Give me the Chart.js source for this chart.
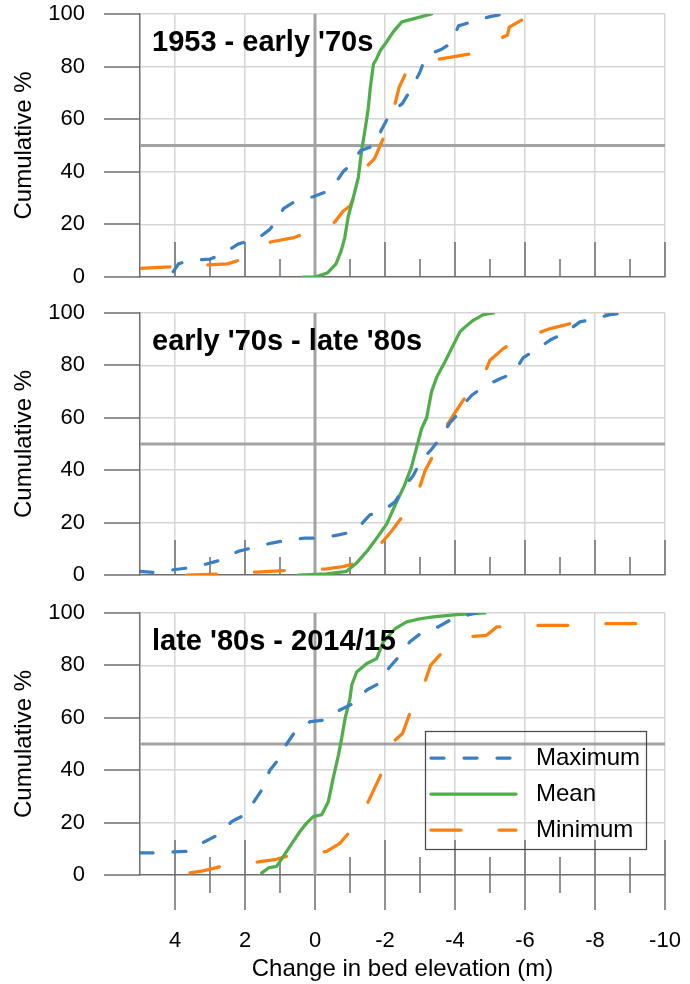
<!DOCTYPE html>
<html>
<head>
<meta charset="utf-8">
<script src="https://cdn.jsdelivr.net/npm/chart.js@4.4.0/dist/chart.umd.min.js"></script>
<style>
  body { margin: 0; background: #fff; }
  #wrap { position: relative; width: 690px; height: 984px; }
  canvas { position: absolute; left: 0; }
</style>
</head>
<body>
<div id="wrap">
  <canvas id="p1" width="690" height="300" style="top:0"></canvas>
  <canvas id="p2" width="690" height="300" style="top:300px"></canvas>
  <canvas id="p3" width="690" height="384" style="top:600px"></canvas>
</div>
<script>
// values: [change in bed elevation (m), cumulative %]
const max53 = [[4.05,2],[3.9,5],[3.6,6.3],[3.0,6.8],[2.6,9],[2.2,12.5],[1.6,15],[1.3,18],[1.15,20.5],[0.9,26],[0.6,28.5],[0.3,30],[0.05,30.5],[-0.3,32.3],[-0.6,36],[-0.8,40],[-1.0,42.5],[-1.3,48],[-1.7,50],[-1.9,56],[-2.1,61],[-2.3,64],[-2.5,66],[-2.7,70.5],[-2.85,74],[-3.0,78],[-3.1,81.5],[-3.3,85],[-3.6,86.5],[-3.9,89],[-4.1,95.5],[-4.6,97.5],[-5.0,99],[-5.4,100]]
const mean53 = [[0.35,0],[0.0,0],[-0.35,1.5],[-0.6,5],[-0.75,10],[-0.85,15],[-0.95,23],[-1.1,30.5],[-1.24,38],[-1.33,48],[-1.43,56],[-1.52,64],[-1.58,72],[-1.67,81],[-1.76,83],[-1.86,86],[-2.05,89.5],[-2.24,93.3],[-2.48,97],[-3.33,100]]
const min53 = [[5,3.3],[4.1,3.9],[3.4,4.3],[3.05,4.6],[2.5,5],[2.14,6.5],[1.8,10],[1.24,13.4],[0.6,15],[0.33,16.3],[-0.1,17],[-0.57,21],[-0.8,25],[-1.0,27],[-1.1,30],[-1.3,35],[-1.52,42.6],[-1.7,45],[-1.95,52.7],[-2.1,58],[-2.29,66],[-2.4,72],[-2.57,76.8],[-3.0,79],[-3.52,82.8],[-4.43,84.8],[-5.0,88],[-5.28,90.7],[-5.5,92],[-5.55,95],[-5.9,97.7]]

const max70 = [[5,1.4],[4.6,1],[4.05,2],[3.62,2.7],[3.1,4.2],[2.67,5.8],[2.2,9],[1.76,10.5],[1.24,12.2],[0.9,13],[0.29,14.1],[-0.14,14.1],[-0.71,15.4],[-1.1,16.6],[-1.3,19],[-1.57,23],[-1.86,24],[-2.1,26],[-2.29,28],[-2.52,33],[-2.81,38],[-3.0,43],[-3.33,48],[-3.62,53],[-3.85,58],[-4.05,61],[-4.14,63.6],[-4.48,68.6],[-4.81,71.8],[-5.3,75],[-5.67,77],[-5.95,83],[-6.3,85.8],[-6.76,90],[-7.1,92],[-7.57,96.6],[-7.95,97.6],[-8.43,99.4],[-8.9,100]]
const mean70 = [[0.48,0],[-0.33,0.4],[-0.9,1.4],[-1.19,4.6],[-1.48,9],[-1.76,14],[-2.05,19.5],[-2.3,27],[-2.55,34],[-2.75,41],[-2.95,51],[-3.05,56],[-3.19,60],[-3.33,70],[-3.48,75.6],[-3.71,81.3],[-3.9,86.4],[-4.14,92.8],[-4.29,94.7],[-4.52,97.2],[-4.81,99.4],[-5.1,100]]
const min70 = [[3.67,0],[2.76,0.4],[1.67,1.1],[0.76,1.8],[-0.33,2.3],[-0.8,3.2],[-1.19,4.6],[-1.6,8],[-1.95,13],[-2.2,17],[-2.48,22],[-2.75,28],[-3.0,34],[-3.15,40],[-3.33,44.5],[-3.55,52],[-3.76,57],[-4.0,62],[-4.24,66.8],[-4.55,72],[-4.86,77.5],[-5.0,82],[-5.38,86.4],[-5.8,90],[-6.3,92],[-6.7,94],[-7.1,95.3],[-7.6,97],[-8.1,99.5],[-8.43,100]]

const max80 = [[5,8.4],[4.62,8.4],[4.1,8.8],[3.62,9],[3.14,12.8],[2.76,15.4],[2.38,20.4],[2.0,23],[1.71,28.7],[1.52,32.5],[1.29,40],[1.05,44],[0.81,50],[0.57,54.7],[0.14,58.5],[-0.24,59.1],[-0.71,63],[-1.1,65.5],[-1.48,70.6],[-1.81,73],[-2.1,78.8],[-2.43,83.9],[-2.71,89],[-3.0,92],[-3.52,94.7],[-3.9,97.6],[-4.3,99],[-4.6,100]]
const mean80 = [[1.52,0.8],[1.33,2.7],[1.1,3.3],[1.0,5.2],[0.81,9],[0.62,12.8],[0.43,16.6],[0.24,19.8],[0.05,22.3],[-0.19,23],[-0.38,28],[-0.52,37],[-0.67,45.8],[-0.76,52],[-0.86,59.8],[-1.0,67.4],[-1.05,72.5],[-1.19,77.5],[-1.48,80.7],[-1.76,82.6],[-1.95,89],[-2.29,94],[-2.62,96.6],[-3.0,97.8],[-3.38,98.5],[-4.05,99.4],[-4.86,100]]
const min80 = [[3.57,0.8],[3.2,1.6],[2.67,3.3],[2.2,4.2],[1.62,5],[1.1,6],[0.71,7.5],[0.2,8],[-0.33,9],[-0.7,12],[-1.0,16.6],[-1.3,22],[-1.52,28],[-1.9,38.8],[-2.1,45],[-2.29,51.5],[-2.5,54],[-2.71,61.7],[-2.9,68],[-3.14,73.7],[-3.3,80],[-3.57,84],[-4.0,88],[-4.38,90.9],[-4.9,91.5],[-5.19,94.7],[-6.24,95.3],[-7.19,95.3],[-8.24,95.9],[-9.19,95.9]]

const panelTitles = ["1953 - early '70s", "early '70s - late '80s", "late '80s - 2014/15"]
const seriesNames = ['Maximum', 'Mean', 'Minimum']
const changeTicks = [4, 2, 0, -2, -4, -6, -8, -10]
const percentTicks = [0, 20, 40, 60, 80, 100]
const refPercent = 50
const refChange = 0

const FONT = '"Liberation Sans", Arial, Helvetica, sans-serif'
const AXIS = '#6e6e6e'
const GRID = '#d6d6d6'
const REF = '#a3a3a3'
const BLUE = '#3a7fc1'
const GREEN = '#4fae4a'
const ORANGE = '#ff7f0e'

Chart.defaults.font.family = FONT
Chart.defaults.color = '#000'

const toPoints = (arr) => arr.map(p => ({x: p[0], y: p[1]}))

// tick marks: major ones longer, crossing the x axis on the bottom panel
const tickMarks = {
  id: 'tickMarks',
  beforeDatasetsDraw(chart, args, opts) {
    const {ctx, scales: {x, y}} = chart
    ctx.save()
    ctx.strokeStyle = AXIS
    ctx.lineWidth = 1.5
    ctx.beginPath()
    x.ticks.forEach(t => {
      if (t.value === x.max) return
      const px = Math.round(x.getPixelForValue(t.value))
      const len = t.value % 2 === 0 ? 35 : 18
      ctx.moveTo(px, y.bottom - len)
      ctx.lineTo(px, y.bottom + (opts.below ? len : 0))
    })
    y.ticks.forEach(t => {
      const py = Math.round(y.getPixelForValue(t.value))
      const len = t.value % 20 === 0 ? 36 : 18
      ctx.moveTo(x.left - len, py)
      ctx.lineTo(x.left, py)
    })
    ctx.stroke()
    ctx.restore()
  }
}

const panelTitle = {
  id: 'panelTitle',
  afterDatasetsDraw(chart, args, opts) {
    const {ctx, chartArea} = chart
    ctx.save()
    ctx.font = 'bold 29px ' + FONT
    ctx.fillStyle = '#000'
    ctx.textBaseline = 'alphabetic'
    ctx.fillText(opts.text, chartArea.left + 12, chartArea.top + 37)
    ctx.restore()
  }
}

const boxLegend = {
  id: 'boxLegend',
  afterDraw(chart, args, opts) {
    if (!opts.show) return
    const {ctx, chartArea} = chart
    const w = 221, h = 118
    const left = Math.round(chartArea.right - 19 - w)
    const top = Math.round(chartArea.bottom - 26 - h)
    ctx.save()
    ctx.strokeStyle = '#4a4a4a'
    ctx.lineWidth = 1.25
    ctx.strokeRect(left + 0.5, top + 0.5, w, h)
    ctx.font = '24px ' + FONT
    ctx.textBaseline = 'middle'
    ctx.fillStyle = '#000'
    chart.data.datasets.filter(d => d.label).forEach((d, i) => {
      const yy = top + 27 + i * 36
      ctx.strokeStyle = d.borderColor
      ctx.lineWidth = d.borderWidth
      ctx.lineCap = 'round'
      ctx.setLineDash(d.borderDash || [])
      ctx.beginPath()
      ctx.moveTo(left + 6, yy)
      ctx.lineTo(left + 91, yy)
      ctx.stroke()
      ctx.setLineDash([])
      ctx.fillText(d.label, left + 111, yy)
    })
    ctx.restore()
  }
}

const makePanel = (id, idx, maxS, meanS, minS, padTop, xHeight, bottomAxis) => {
  const ctx = document.getElementById(id).getContext('2d')
  const curve = (label, data, color, width, dash) => ({
    label, data: toPoints(data), borderColor: color, borderWidth: width,
    borderDash: dash, borderCapStyle: 'round', borderJoinStyle: 'round',
    pointRadius: 0, fill: false, tension: 0, order: 1
  })
  const refLine = (data) => ({
    label: '', data, borderColor: REF, borderWidth: 3, pointRadius: 0, fill: false, order: 5
  })

  new Chart(ctx, {
    type: 'line',
    data: {
      datasets: [
        curve(seriesNames[0], maxS, BLUE, 3.25, [13, 20]),
        curve(seriesNames[1], meanS, GREEN, 3.25, []),
        curve(seriesNames[2], minS, ORANGE, 3.25, [30, 38]),
        refLine([{x: 5, y: refPercent}, {x: -10, y: refPercent}]),
        refLine([{x: refChange, y: 0}, {x: refChange, y: 100}])
      ]
    },
    options: {
      responsive: false,
      animation: false,
      events: [],
      layout: {autoPadding: false, padding: {top: padTop, right: 25, left: 0, bottom: 0}},
      plugins: {
        legend: {display: false},
        tooltip: {enabled: false},
        panelTitle: {text: panelTitles[idx]},
        boxLegend: {show: bottomAxis},
        tickMarks: {below: bottomAxis}
      },
      scales: {
        x: {
          type: 'linear', min: -10, max: 5, reverse: true,
          afterFit: (s) => {
            s.height = xHeight
            s.paddingLeft = 0
            s.paddingRight = 0
          },
          ticks: {
            stepSize: 1, autoSkip: false, display: bottomAxis, padding: 53,
            maxRotation: 0, minRotation: 0,
            font: {size: 22}, color: '#000',
            callback: (v) => changeTicks.includes(v) ? String(v) : ''
          },
          grid: {
            drawTicks: false, lineWidth: 1.5,
            color: (c) => (c.tick && c.tick.value % 2 === 0) ? GRID : 'rgba(0,0,0,0)'
          },
          border: {color: AXIS, width: 1.5},
          title: {
            display: bottomAxis, text: 'Change in bed elevation (m)',
            font: {size: 24}, color: '#000', padding: 0
          }
        },
        y: {
          min: 0, max: 100,
          afterFit: (s) => {
            s.width = 140
            s.paddingTop = 0
            s.paddingBottom = 0
          },
          ticks: {
            stepSize: 10, padding: 55, font: {size: 22}, color: '#000',
            callback: (v) => percentTicks.includes(v) ? String(v) : ''
          },
          grid: {
            drawTicks: false, lineWidth: 1.5,
            color: (c) => (c.tick && c.tick.value % 20 === 0 && c.tick.value !== 0) ? GRID : 'rgba(0,0,0,0)'
          },
          border: {color: AXIS, width: 1.5},
          title: {
            display: true, text: 'Cumulative %', font: {size: 24}, color: '#000',
            padding: {top: 10, bottom: 0}
          }
        }
      }
    },
    plugins: [tickMarks, panelTitle, boxLegend]
  })
}

makePanel('p1', 0, max53, mean53, min53, 14, 23, false)
makePanel('p2', 1, max70, mean70, min70, 13, 25, false)
makePanel('p3', 2, max80, mean80, min80, 13, 109, true)
</script>
</body>
</html>
